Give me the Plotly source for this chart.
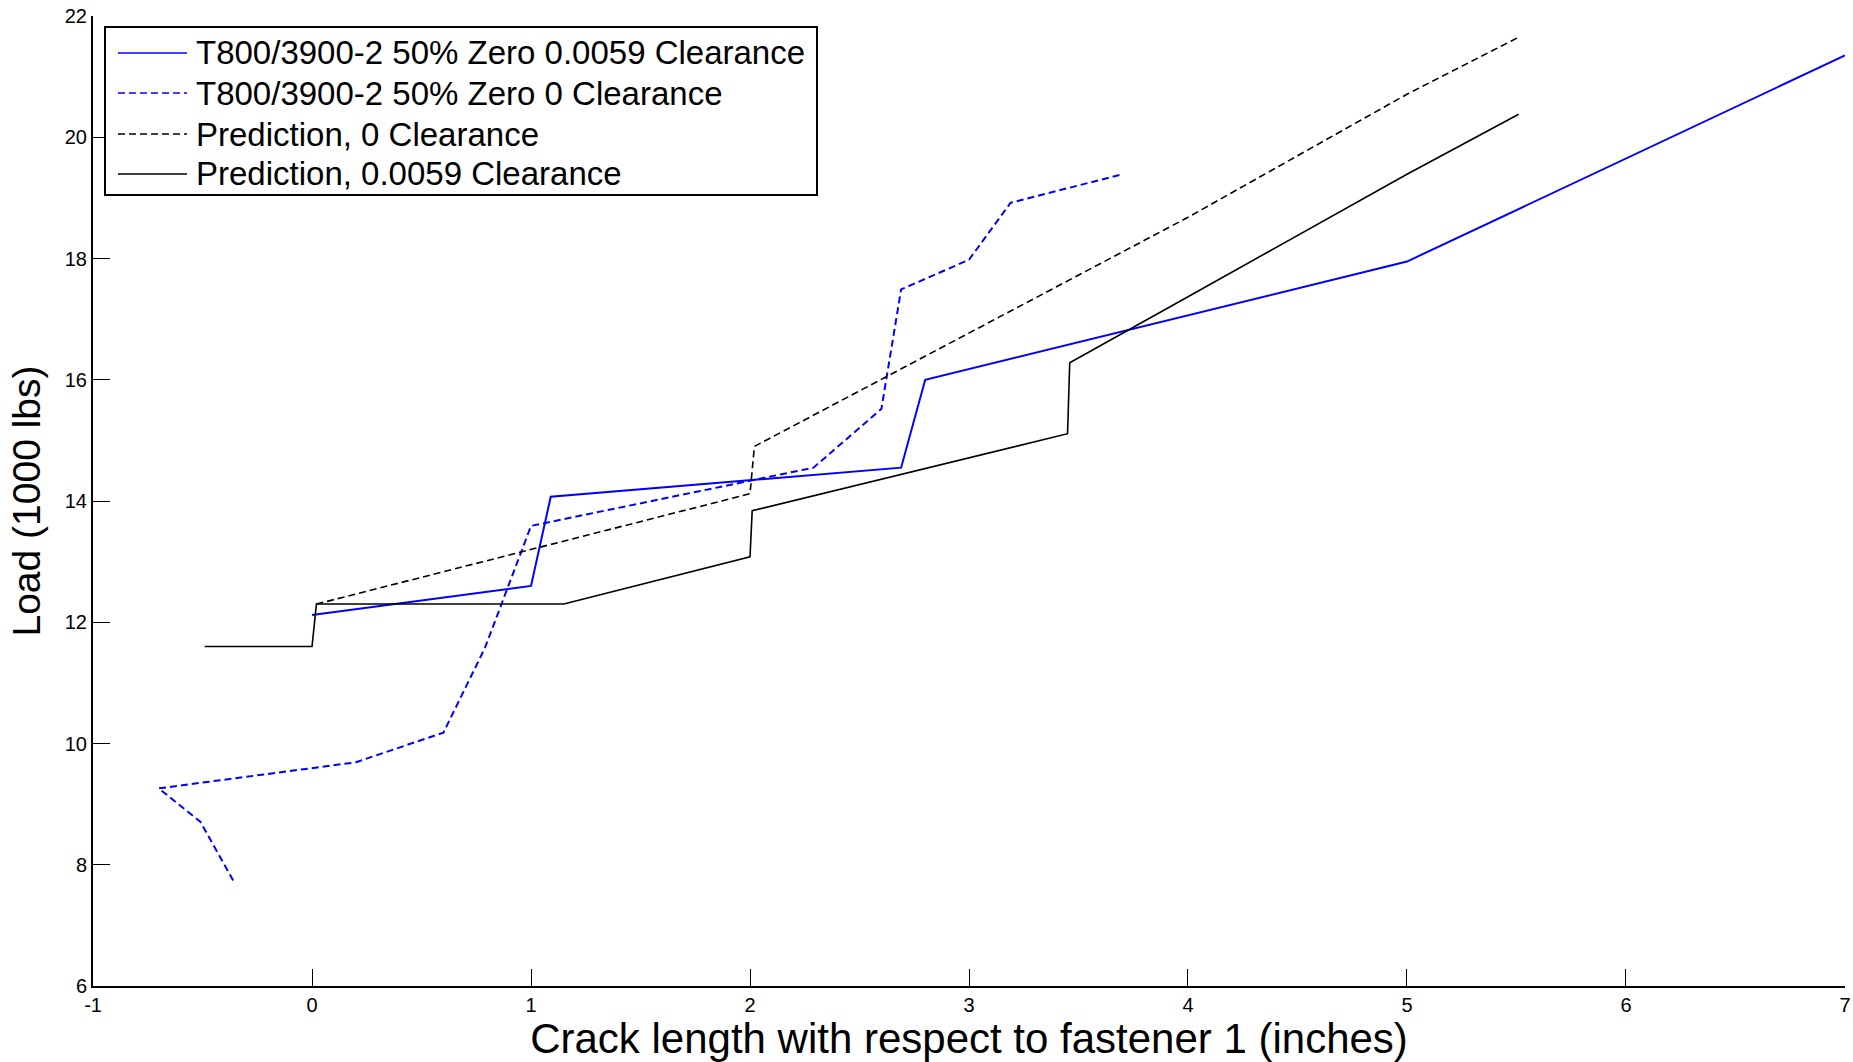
import plotly.graph_objects as go

# ---- data ----
test_0059_x = [0.0, 1.0, 1.09, 2.69, 2.80, 5.0, 7.0]
test_0059_y = [12.12, 12.6, 14.07, 14.55, 16.0, 17.95, 21.35]

test_0_x = [-0.36, -0.51, -0.70, 0.20, 0.60, 0.79, 1.0, 2.29, 2.60, 2.69, 3.0, 3.19, 3.70]
test_0_y = [7.74, 8.71, 9.26, 9.69, 10.18, 11.58, 13.59, 14.55, 15.52, 17.49, 17.98, 18.92, 19.39]

pred_0_x = [0.02, 1.0, 2.0, 2.02, 3.0, 4.0, 5.0, 5.51]
pred_0_y = [12.3, 13.2, 14.12, 14.9, 16.77, 18.68, 20.71, 21.65]

pred_0059_x = [-0.49, 0.0, 0.02, 1.15, 2.0, 2.01, 3.45, 3.46, 4.0, 5.0, 5.51]
pred_0059_y = [11.6, 11.6, 12.3, 12.3, 13.08, 13.84, 15.11, 16.28, 17.37, 19.39, 20.38]

series_names = [
    "T800/3900-2 50% Zero 0.0059 Clearance",
    "T800/3900-2 50% Zero 0 Clearance",
    "Prediction, 0 Clearance",
    "Prediction, 0.0059 Clearance",
]
x_ticks = [-1, 0, 1, 2, 3, 4, 5, 6, 7]
x_tick_labels = ["-1", "0", "1", "2", "3", "4", "5", "6", "7"]
y_ticks = [6, 8, 10, 12, 14, 16, 18, 20, 22]
y_tick_labels = ["6", "8", "10", "12", "14", "16", "18", "20", "22"]

FONT = "Liberation Sans, Arial, Helvetica, sans-serif"
BLUE = "#0000ff"
BLACK = "#000000"
DASH = "7px,4px"

styles = [
    dict(color=BLUE, width=2, dash="solid"),
    dict(color=BLUE, width=2, dash=DASH),
    dict(color=BLACK, width=1.6, dash=DASH),
    dict(color=BLACK, width=1.6, dash="solid"),
]
xs = [test_0059_x, test_0_x, pred_0_x, pred_0059_x]
ys = [test_0059_y, test_0_y, pred_0_y, pred_0059_y]

fig = go.Figure()
for name, x, y, st in zip(series_names, xs, ys, styles):
    fig.add_trace(go.Scatter(x=x, y=y, mode="lines", name=name, line=st,
                             showlegend=False))

W, H = 1853, 1062
L, R, T, B = 93, 8, 16, 76
pw, ph = W - L - R, H - T - B


def px_to_paper_x(px):
    return (px - L) / pw


def px_to_paper_y(py):
    return (H - B - py) / ph


shapes = []
annotations = []
# legend box
shapes.append(dict(type="rect", xref="paper", yref="paper",
                   x0=px_to_paper_x(105), x1=px_to_paper_x(817),
                   y0=px_to_paper_y(195), y1=px_to_paper_y(27),
                   line=dict(color=BLACK, width=2), fillcolor="white", layer="above"))
row_y = [53, 93, 134, 174]
for name, st, ry in zip(series_names, styles, row_y):
    shapes.append(dict(type="line", xref="paper", yref="paper",
                       x0=px_to_paper_x(118), x1=px_to_paper_x(187),
                       y0=px_to_paper_y(ry), y1=px_to_paper_y(ry),
                       line=dict(color=st["color"], width=1.5, dash=st["dash"]),
                       layer="above"))
    annotations.append(dict(xref="paper", yref="paper",
                            x=px_to_paper_x(194), y=px_to_paper_y(ry),
                            text=name, showarrow=False, xanchor="left", yanchor="middle",
                            font=dict(family=FONT, size=33, color=BLACK)))

axis_common = dict(showline=True, linecolor=BLACK, linewidth=2, mirror=False,
                   ticks="inside", ticklen=17, tickwidth=1, tickcolor=BLACK,
                   showgrid=False, zeroline=False, automargin=False,
                   tickfont=dict(family=FONT, size=20, color=BLACK))

fig.update_layout(
    width=W, height=H,
    margin=dict(l=L, r=R, t=T, b=B, autoexpand=False),
    paper_bgcolor="white", plot_bgcolor="white",
    font=dict(family=FONT, color=BLACK),
    xaxis=dict(range=[-1.0002, 7.0002], tickmode="array", tickvals=x_ticks,
               ticktext=x_tick_labels,
               title=dict(text="Crack length with respect to fastener 1 (inches)",
                          font=dict(family=FONT, size=42, color=BLACK), standoff=6),
               **axis_common),
    yaxis=dict(range=[6, 22.0005], tickmode="array", tickvals=y_ticks,
               ticktext=y_tick_labels,
               title=dict(text="Load (1000 lbs)",
                          font=dict(family=FONT, size=39, color=BLACK), standoff=12),
               **axis_common),
    shapes=shapes,
    annotations=annotations,
)

fig.write_html(
    "out.html",
    config={"displayModeBar": False},
    post_script="document.body.style.margin='0';document.body.style.overflow='hidden';",
)
